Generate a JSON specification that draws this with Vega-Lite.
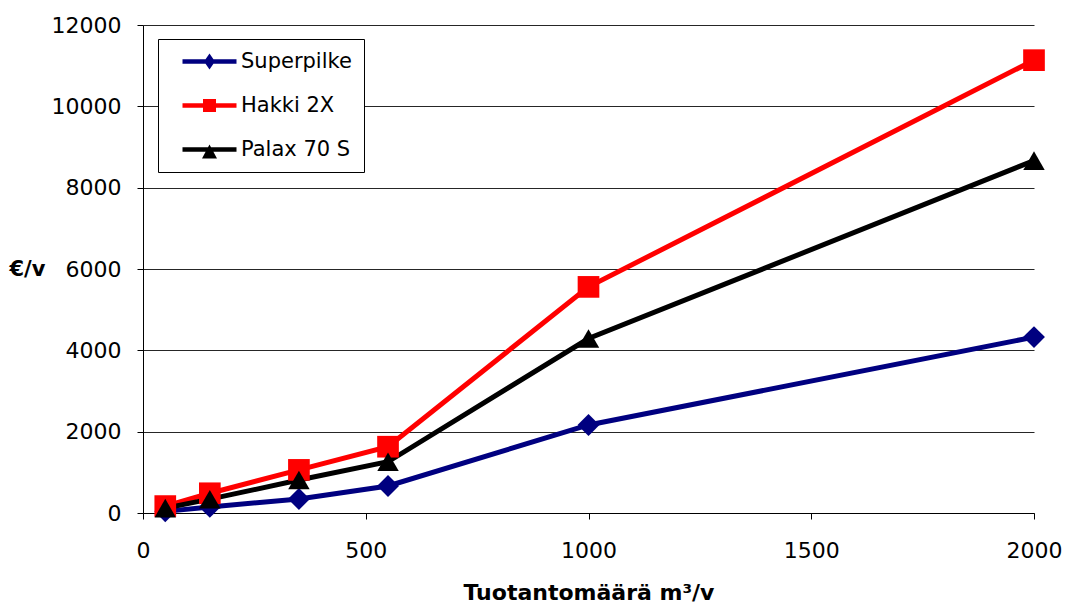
{
  "$schema": "https://vega.github.io/schema/vega-lite/v6.json",
  "autosize": {"type": "none"},
  "padding": {"left": 143, "top": 25, "right": 32, "bottom": 90},
  "width": 891,
  "height": 488,
  "background": "white",
  "config": {
    "view": {"stroke": null},
    "font": "DejaVu Sans",
    "axis": {"labelFont": "DejaVu Sans", "titleFont": "DejaVu Sans", "labelColor": "#000", "titleColor": "#000", "domainColor": "#000", "tickColor": "#000"}
  },
  "data": {
    "values": [
      {"x": 50, "y": 40, "series": "Superpilke"},
      {"x": 150, "y": 150, "series": "Superpilke"},
      {"x": 350, "y": 345, "series": "Superpilke"},
      {"x": 550, "y": 665, "series": "Superpilke"},
      {"x": 1000, "y": 2165, "series": "Superpilke"},
      {"x": 2000, "y": 4325, "series": "Superpilke"},
      {"x": 50, "y": 170, "series": "Hakki 2X"},
      {"x": 150, "y": 485, "series": "Hakki 2X"},
      {"x": 350, "y": 1060, "series": "Hakki 2X"},
      {"x": 550, "y": 1630, "series": "Hakki 2X"},
      {"x": 1000, "y": 5560, "series": "Hakki 2X"},
      {"x": 2000, "y": 11135, "series": "Hakki 2X"},
      {"x": 50, "y": 120, "series": "Palax 70 S"},
      {"x": 150, "y": 340, "series": "Palax 70 S"},
      {"x": 350, "y": 810, "series": "Palax 70 S"},
      {"x": 550, "y": 1260, "series": "Palax 70 S"},
      {"x": 1000, "y": 4290, "series": "Palax 70 S"},
      {"x": 2000, "y": 8665, "series": "Palax 70 S"}
    ]
  },
  "encoding": {
    "x": {
      "field": "x", "type": "quantitative",
      "scale": {"domain": [0, 2000], "nice": false, "zero": true},
      "axis": {
        "title": "Tuotantomäärä m³/v",
        "format": "d",
        "values": [0, 500, 1000, 1500, 2000],
        "grid": false,
        "tickSize": 6,
        "labelFontSize": 22,
        "labelBaseline": "alphabetic",
        "labelPadding": 38,
        "labelFlush": false,
        "labelOverlap": false,
        "titleFontSize": 22,
        "titleFontWeight": "bold",
        "titleBaseline": "alphabetic",
        "titleY": 86,
        "titleX": 445.5,
        "titleAnchor": "middle"
      }
    },
    "y": {
      "field": "y", "type": "quantitative",
      "scale": {"domain": [0, 12000], "nice": false},
      "axis": {
        "title": "€/v",
        "format": "d",
        "values": [0, 2000, 4000, 6000, 8000, 10000, 12000],
        "grid": true,
        "gridColor": "#000",
        "gridWidth": 1,
        "gridOpacity": 0.85,
        "tickSize": 6,
        "labelFontSize": 22,
        "labelPadding": 16,
        "labelBaseline": "middle",
        "labelFlush": false,
        "labelOverlap": false,
        "titleFontSize": 21,
        "titleFontWeight": "bold",
        "titleAngle": 0,
        "titleAlign": "left",
        "titleBaseline": "middle",
        "titleX": -134,
        "titleY": 244
      }
    }
  },
  "resolve": {"scale": {"shape": "independent", "size": "independent", "color": "independent"}},
  "layer": [
    {
      "mark": {"type": "line", "strokeWidth": 5},
      "encoding": {
        "color": {
          "field": "series", "type": "nominal",
          "scale": {"domain": ["Superpilke", "Hakki 2X", "Palax 70 S"], "range": ["#000080", "#FF0000", "#000000"]},
          "legend": null
        }
      }
    },
    {
      "mark": {"type": "point", "filled": true, "opacity": 1},
      "encoding": {
        "color": {
          "field": "series", "type": "nominal",
          "scale": {"domain": ["Superpilke", "Hakki 2X", "Palax 70 S"], "range": ["#000080", "#FF0000", "#000000"]},
          "legend": null
        },
        "shape": {
          "field": "series", "type": "nominal",
          "scale": {"domain": ["Superpilke", "Hakki 2X", "Palax 70 S"], "range": ["diamond", "square", "triangle-up"]},
          "legend": null
        },
        "size": {
          "field": "series", "type": "nominal",
          "scale": {"domain": ["Superpilke", "Hakki 2X", "Palax 70 S"], "range": [480, 460, 600]},
          "legend": null
        }
      }
    },
    {
      "mark": {"type": "point", "filled": true, "opacity": 0},
      "encoding": {
        "color": {
          "field": "series", "type": "nominal",
          "scale": {"domain": ["Superpilke", "Hakki 2X", "Palax 70 S"], "range": ["#000080", "#FF0000", "#000000"]},
          "legend": {
            "title": null,
            "orient": "none",
            "legendX": 15,
            "legendY": 14,
            "padding": 12,
            "strokeColor": "#000",
            "fillColor": "#fff",
            "labelFontSize": 21,
            "labelFont": "DejaVu Sans",
            "labelColor": "#000",
            "labelOffset": 50,
            "rowPadding": 22,
            "symbolSize": 400,
            "symbolStrokeWidth": 0,
            "symbolOpacity": 1,
            "labelLimit": 300
          }
        },
        "shape": {
          "field": "series", "type": "nominal",
          "scale": {
            "domain": ["Superpilke", "Hakki 2X", "Palax 70 S"],
            "range": [
              "M0.2,-0.225H5.6V0.225H0.2Z M2.9,-0.8L3.45,0L2.9,0.8L2.35,0Z",
              "M0.2,-0.225H5.6V0.225H0.2Z M2.25,-0.65H3.55V0.65H2.25Z",
              "M0.2,-0.225H5.6V0.225H0.2Z M2.9,-0.5L3.65,0.9H2.15Z"
            ]
          },
          "legend": {
            "title": null,
            "orient": "none",
            "legendX": 15,
            "legendY": 14,
            "padding": 12,
            "strokeColor": "#000",
            "fillColor": "#fff",
            "labelFontSize": 21,
            "labelFont": "DejaVu Sans",
            "labelColor": "#000",
            "labelOffset": 50,
            "rowPadding": 22,
            "symbolSize": 400,
            "symbolStrokeWidth": 0,
            "symbolOpacity": 1,
            "labelLimit": 300
          }
        }
      }
    }
  ]
}
